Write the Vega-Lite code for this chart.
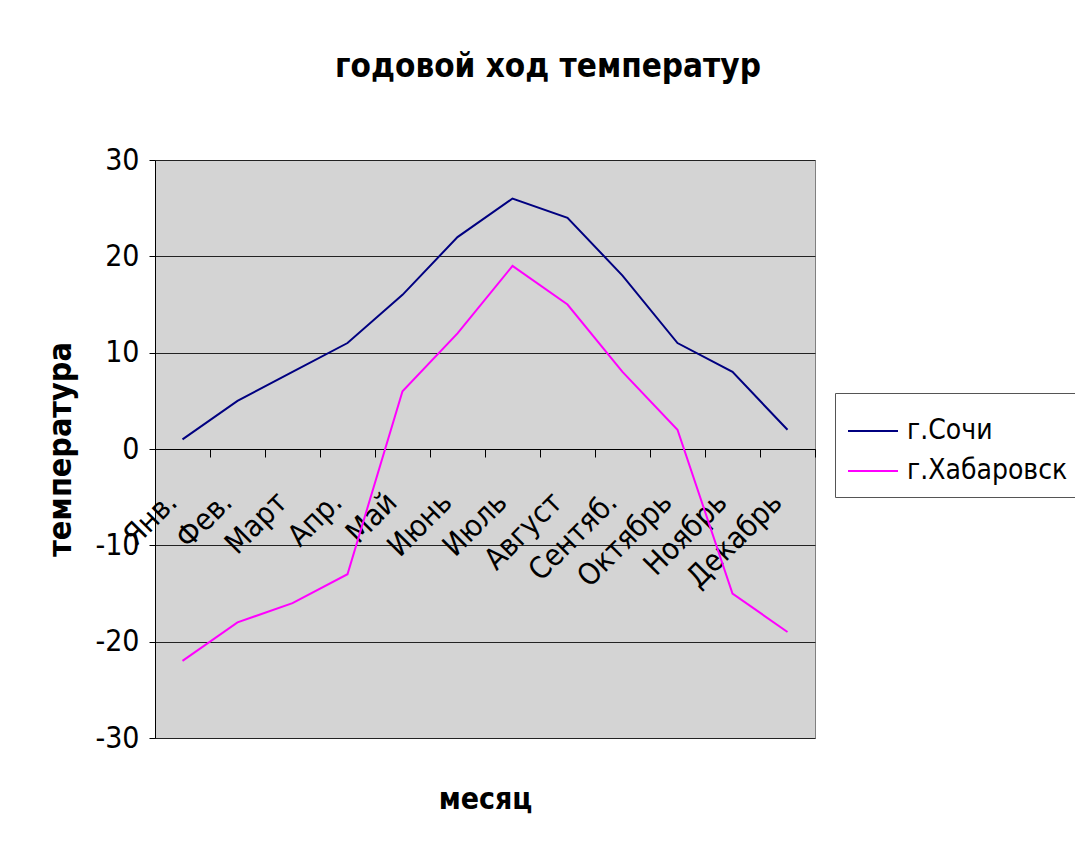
{
  "$schema": "https://vega.github.io/schema/vega-lite/v6.json",
  "autosize": {"type": "none"},
  "width": 660,
  "height": 578,
  "padding": {"left": 155, "top": 160, "right": 260, "bottom": 107},
  "background": "white",
  "title": {
    "text": "годовой ход температур",
    "font": "DejaVu Sans Condensed, Liberation Sans, Arial",
    "fontSize": 33,
    "fontWeight": "bold",
    "color": "black",
    "anchor": "middle",
    "dx": 63,
    "offset": 35,
    "baseline": "alphabetic"
  },
  "data": {
    "values": [
      {"month": "Янв.", "city": "г.Сочи", "temp": 1},
      {"month": "Фев.", "city": "г.Сочи", "temp": 5},
      {"month": "Март", "city": "г.Сочи", "temp": 8},
      {"month": "Апр.", "city": "г.Сочи", "temp": 11},
      {"month": "Май", "city": "г.Сочи", "temp": 16},
      {"month": "Июнь", "city": "г.Сочи", "temp": 22},
      {"month": "Июль", "city": "г.Сочи", "temp": 26},
      {"month": "Август", "city": "г.Сочи", "temp": 24},
      {"month": "Сентяб.", "city": "г.Сочи", "temp": 18},
      {"month": "Октябрь", "city": "г.Сочи", "temp": 11},
      {"month": "Ноябрь", "city": "г.Сочи", "temp": 8},
      {"month": "Декабрь", "city": "г.Сочи", "temp": 2},
      {"month": "Янв.", "city": "г.Хабаровск", "temp": -22},
      {"month": "Фев.", "city": "г.Хабаровск", "temp": -18},
      {"month": "Март", "city": "г.Хабаровск", "temp": -16},
      {"month": "Апр.", "city": "г.Хабаровск", "temp": -13},
      {"month": "Май", "city": "г.Хабаровск", "temp": 6},
      {"month": "Июнь", "city": "г.Хабаровск", "temp": 12},
      {"month": "Июль", "city": "г.Хабаровск", "temp": 19},
      {"month": "Август", "city": "г.Хабаровск", "temp": 15},
      {"month": "Сентяб.", "city": "г.Хабаровск", "temp": 8},
      {"month": "Октябрь", "city": "г.Хабаровск", "temp": 2},
      {"month": "Ноябрь", "city": "г.Хабаровск", "temp": -15},
      {"month": "Декабрь", "city": "г.Хабаровск", "temp": -19}
    ]
  },
  "mark": {"type": "line", "strokeWidth": 2},
  "encoding": {
    "x": {
      "field": "month",
      "type": "ordinal",
      "sort": ["Янв.", "Фев.", "Март", "Апр.", "Май", "Июнь", "Июль", "Август", "Сентяб.", "Октябрь", "Ноябрь", "Декабрь"],
      "bandPosition": 0.5,
      "scale": {"type": "band", "paddingInner": 0, "paddingOuter": 0},
      "axis": {
        "offset": -289,
        "grid": false,
        "domainColor": "black",
        "domainWidth": 1,
        "tickColor": "black",
        "tickSize": 8,
        "tickBand": "extent",
        "labelAngle": -45,
        "labelAlign": "right",
        "labelBaseline": "bottom",
        "labelPadding": 51,
        "labelOverlap": false,
        "labelBound": false,
        "labelFont": "DejaVu Sans Condensed, Liberation Sans, Arial",
        "labelFontSize": 30,
        "labelColor": "black",
        "title": "месяц",
        "titleFont": "DejaVu Sans Condensed, Liberation Sans, Arial",
        "titleFontSize": 30,
        "titleFontWeight": "bold",
        "titleColor": "black",
        "titleBaseline": "alphabetic",
        "titleY": 359
      }
    },
    "y": {
      "field": "temp",
      "type": "quantitative",
      "scale": {"domain": [-30, 30], "nice": false},
      "axis": {
        "values": [-30, -20, -10, 0, 10, 20, 30],
        "labelExpr": "datum.value + ''",
        "grid": true,
        "gridColor": "#222222",
        "gridWidth": 1,
        "domainColor": "black",
        "tickColor": "black",
        "tickSize": 6,
        "labelPadding": 10,
        "labelFont": "DejaVu Sans Condensed, Liberation Sans, Arial",
        "labelFontSize": 30,
        "labelColor": "black",
        "title": "температура",
        "titleFont": "DejaVu Sans Condensed, Liberation Sans, Arial",
        "titleFontSize": 32,
        "titleFontWeight": "bold",
        "titleColor": "black",
        "titleAngle": -90,
        "titleAlign": "center",
        "titleBaseline": "alphabetic",
        "titleX": -85,
        "titleY": 289
      }
    },
    "color": {
      "field": "city",
      "type": "nominal",
      "scale": {"domain": ["г.Сочи", "г.Хабаровск"], "range": ["#000080", "#ff00ff"]},
      "legend": {
        "orient": "none",
        "legendX": 680,
        "legendY": 233,
        "title": null,
        "symbolType": "stroke",
        "symbolSize": 2500,
        "symbolStrokeWidth": 2,
        "labelFont": "DejaVu Sans Condensed, Liberation Sans, Arial",
        "labelFontSize": 28,
        "labelLimit": 400,
        "labelColor": "black",
        "labelOffset": 8,
        "rowPadding": 0,
        "padding": 12,
        "strokeColor": "#555555",
        "fillColor": "white"
      }
    }
  },
  "config": {
    "view": {"fill": "#d4d4d4", "stroke": "#808080", "strokeWidth": 1}
  }
}
